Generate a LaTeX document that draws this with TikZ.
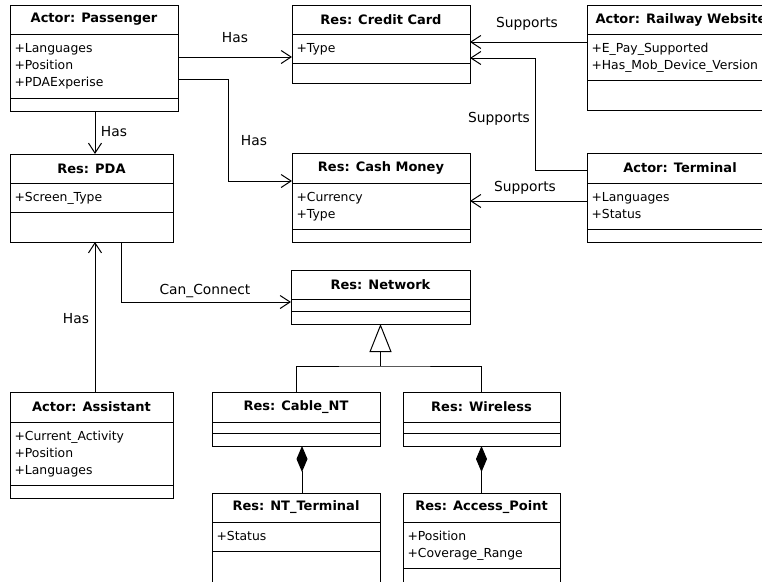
\documentclass[tikz,border=0pt]{standalone}
\usepackage{fontspec}
\setmainfont{DejaVu Sans}
\usetikzlibrary{arrows.meta}
\tikzset{
 box/.style={draw, fill=white, inner sep=0, outer sep=0, anchor=north west},
 ttl/.style={font=\fontsize{13}{15}\selectfont\bfseries, inner sep=0},
 attr/.style={font=\fontsize{12.4}{15}\selectfont, anchor=base west, inner sep=0},
 lbl/.style={font=\fontsize{13.8}{16}\selectfont, inner sep=0},
 assoc/.style={draw, -{Straight Barb[length=10pt,width=13pt]}},
 gen/.style={draw, -{Triangle[open,length=28pt,width=22pt]}},
 comp/.style={draw, -{Diamond[length=26pt,width=11pt]}},
}
\newcommand\umlcls[9]{%
 \node[box, minimum width={(#4)-(#2)}, minimum height={(#7)-(#3)}] (#1) at (#2,#3) {};
 \draw (#2,#5) -- (#4,#5);
 \draw (#2,#6) -- (#4,#6);
 \node[ttl] (#1-t) at ({(#2+#4)/2},{(#3+#5)/2}) {#8};
 \foreach \a [count=\i from 0] in {#9} {\node[attr] (#1-a\i) at (#2+4,{#5+18.5+17*\i}) {\a};}
}
\begin{document}
\begin{tikzpicture}[x=1pt,y=-1pt,line width=1pt]
\useasboundingbox (0,0) rectangle (762,581);
\clip (0,0) rectangle (762,581);
\fill[white] (0,0) rectangle (762,581);
\umlcls{pass}{10}{5}{178}{34}{98}{111}{Actor: Passenger}{+Languages,+Position,+PDAExperise}
\umlcls{pda}{10}{154}{173}{183}{212}{242}{Res: PDA}{+Screen\_Type}
\umlcls{cc}{292}{5}{470}{34}{63}{83}{Res: Credit Card}{+Type}
\umlcls{cash}{292}{153}{470}{183}{229}{242}{Res: Cash Money}{+Currency,+Type}
\umlcls{rail}{587}{5}{775}{34}{80}{110}{}{+E\_Pay\_Supported,+Has\_Mob\_Device\_Version}
\node[ttl, anchor=west] (railt) at (595,19.5) {Actor: Railway Website};
\umlcls{term}{587}{153}{773}{183}{229}{242}{Actor: Terminal}{+Languages,+Status}
\umlcls{asst}{10}{392}{173}{422}{485}{498}{Actor: Assistant}{+Current\_Activity,+Position,+Languages}
\umlcls{net}{291}{270}{470}{299}{311}{324}{Res: Network}{}
\umlcls{cable}{212}{392}{380}{422}{433}{446}{Res: Cable\_NT}{}
\umlcls{wless}{403}{392}{560}{422}{433}{446}{Res: Wireless}{}
\umlcls{ntt}{212}{493}{380}{522}{551}{600}{Res: NT\_Terminal}{+Status}
\umlcls{ap}{403}{493}{560}{522}{568}{600}{Res: Access\_Point}{+Position,+Coverage\_Range}

% associations
\draw[assoc] (pass.east |- 0,57) -- (cc.west |- 0,57);
\draw[assoc] (pass.east |- 0,79) -- (228,79) -- (228,181) -- (cash.west |- 0,181);
\draw[assoc] (pass.south -| 95,0) -- (pda.north -| 95,0);
\draw[assoc] (rail.west |- 0,42) -- (cc.east |- 0,42);
\draw[assoc] (term.west |- 0,170) -- (535,170) -- (535,58) -- (cc.east |- 0,58);
\draw[assoc] (term.west |- 0,201) -- (cash.east |- 0,201);
\draw[assoc] (asst.north -| 95,0) -- (pda.south -| 95,0);
\draw[assoc] (pda.south -| 121,0) -- (121,302) -- (net.west |- 0,302);

% generalization
\coordinate (j) at (net.south |- 0,366);
\draw (cable.north) |- (j) -| (wless.north);
\draw[gen] (j) -- (net.south);

% composition
\draw[comp] (ntt.north -| 302,0) -- (cable.south -| 302,0);
\draw[comp] (ap.north) -- (wless.south);

% labels
\node[lbl] (l1) at (235,38) {Has};
\node[lbl] (l2) at (254,141) {Has};
\node[lbl] (l3) at (114,132) {Has};
\node[lbl] (l4) at (527,24) {Supports};
\node[lbl] (l5) at (499,119) {Supports};
\node[lbl] (l6) at (525,188) {Supports};
\node[lbl] (l7) at (76,319) {Has};
\node[lbl] (l8) at (205,291) {Can\_Connect};
\end{tikzpicture}
\end{document}
